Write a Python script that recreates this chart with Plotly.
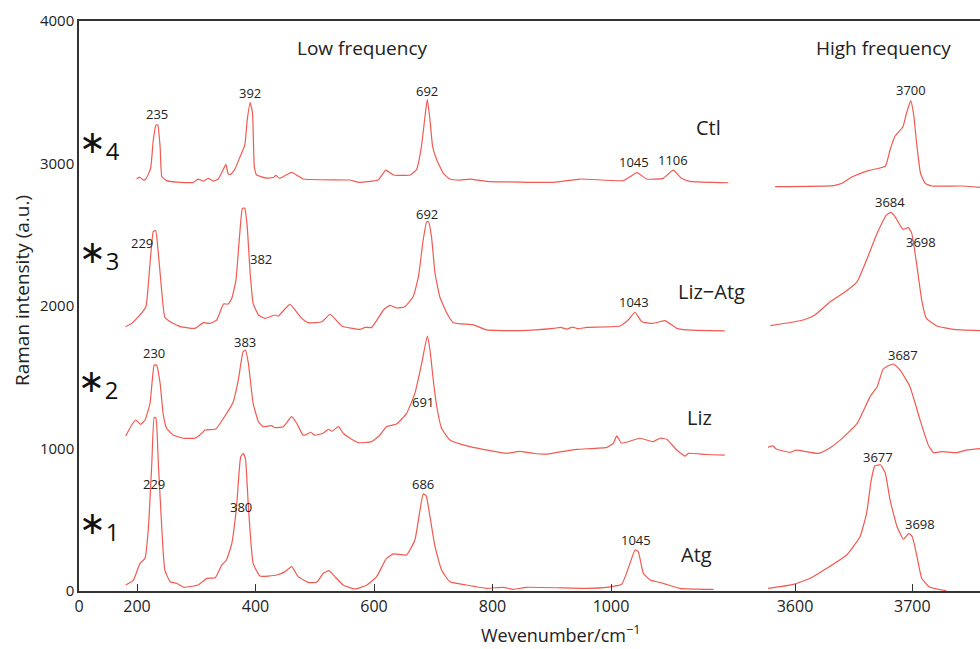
import plotly.graph_objects as go

# ---------------- data (wavenumber, intensity) ----------------
ctl_low = [(199.5, 2891), (204, 2905), (211, 2884), (215, 2891), (223, 2966), (227.5, 3165), (232, 3270),
           (235, 3270), (239, 3118), (242, 2907), (250, 2880), (267, 2870), (295, 2868), (303, 2891),
           (312, 2877), (320, 2896), (329, 2877), (337, 2891), (345, 2954), (350, 2994), (354, 2926),
           (358, 2924), (365, 2959), (374, 3048), (382, 3130), (386, 3305), (391, 3427), (395, 3352),
           (398, 2978), (402, 2919), (419, 2898), (431, 2903), (434, 2917), (441, 2896), (461, 2938),
           (481, 2891), (559, 2884), (574, 2868), (607, 2884), (620, 2954), (633, 2919), (661, 2919),
           (672, 2959), (680, 3118), (686, 3328), (690, 3450), (694.5, 3305), (699, 3118), (706, 3025),
           (717, 2931), (728, 2891), (745, 2884), (762, 2891), (790, 2875), (903, 2868), (948, 2891),
           (1021, 2880), (1032, 2907), (1044, 2936), (1060, 2891), (1088, 2896), (1105, 2954),
           (1119, 2896), (1133, 2875), (1198, 2865)]

lizatg_low = [(181, 1855), (191, 1878), (205, 1937), (215, 1995), (222, 2300), (227.5, 2522), (231.5, 2530),
              (236, 2370), (242, 2089), (247, 1921), (256, 1890), (273, 1855), (298, 1843), (312, 1883),
              (323, 1878), (334.5, 1902), (346, 2014), (354, 2014), (360, 2054), (367, 2182), (373, 2487),
              (378, 2686), (382, 2686), (386, 2557), (391, 2230), (396, 2019), (405, 1937), (416, 1913),
              (433, 1937), (438.5, 1930), (458, 2012), (478, 1913), (489, 1883), (512, 1890), (526, 1942),
              (545.5, 1860), (576, 1836), (585, 1850), (596, 1850), (616, 1972), (627, 2005), (638, 1986),
              (652, 1995), (666, 2065), (675, 2206), (683, 2463), (689, 2592), (692, 2592), (697, 2487),
              (703, 2230), (711, 2065), (723, 1949), (734, 1883), (768, 1867), (790, 1832), (846, 1827),
              (903, 1843), (915, 1850), (925, 1838), (935, 1852), (945, 1840), (959, 1850), (1015, 1860),
              (1029, 1902), (1040.5, 1956), (1052, 1890), (1071, 1878), (1091, 1897), (1111, 1843),
              (1128, 1832), (1192, 1825)]

liz_low = [(181, 1088), (191, 1165), (198, 1200), (206, 1170), (213.5, 1200), (222, 1317), (229, 1586),
           (233, 1586), (239, 1458), (244, 1247), (250, 1142), (261, 1095), (278, 1072), (298, 1072),
           (306, 1095), (315, 1130), (333, 1137), (346, 1212), (362.5, 1328), (371, 1481), (379, 1679),
           (383, 1691), (388, 1598), (396, 1317), (405, 1188), (413, 1153), (427, 1160), (433, 1146),
           (447, 1153), (461, 1223), (469.5, 1177), (480, 1095), (484, 1095), (493, 1114), (500, 1093),
           (514, 1107), (523, 1135), (529, 1121), (540, 1153), (548, 1107), (559.5, 1072), (573.5, 1041),
           (596, 1048), (610, 1095), (621, 1153), (638, 1172), (655, 1247), (669, 1387), (680.5, 1598),
           (690, 1789), (694.5, 1691), (700, 1481), (706, 1293), (714, 1142), (728, 1060), (762, 1013),
           (796, 985), (824, 966), (846, 980), (870, 965), (891.5, 961), (942, 994), (993, 1008),
           (1004, 1037), (1009.6, 1088), (1018, 1037), (1049, 1072), (1071, 1048), (1083, 1072),
           (1094, 1065), (1111, 989), (1125, 947), (1130.5, 966), (1160, 958), (1192, 954)]

atg_low = [(181, 42), (194, 77), (205, 194), (213.5, 229), (219, 428), (225, 896), (229, 1219), (232, 1212),
           (236, 896), (242, 428), (247, 147), (256, 65), (267, 54), (279, 26), (303, 42), (318, 89),
           (332, 93), (343, 182), (351, 218), (360, 335), (368, 592), (375, 942), (379.5, 966), (383, 930),
           (388, 592), (396, 194), (407.6, 105), (436, 112), (450, 136), (461, 171), (472, 101), (489, 61),
           (503, 61), (514.5, 124), (524, 143), (534, 101), (548, 42), (568, 14), (588, 42), (604.5, 101),
           (621, 229), (633, 260), (655, 253), (669, 358), (677.6, 568), (683, 681), (688, 670),
           (694.5, 521), (703, 311), (714, 147), (728, 65), (756, 42), (790, 19), (818, 26), (835, 12),
           (858, 26), (959, 19), (993, 26), (1018, 47), (1032, 194), (1040.5, 288), (1046, 276),
           (1054.5, 124), (1066, 77), (1088, 54), (1116, 19), (1173, 12)]

ctl_high = [(3583, 2838), (3633, 2845), (3640, 2861), (3648, 2903), (3662.5, 2950), (3677, 2982),
            (3681, 3095), (3685, 3188), (3692, 3258), (3695, 3352), (3698.6, 3441), (3701, 3352),
            (3704, 3118), (3707, 2931), (3711, 2861), (3716.5, 2842), (3741, 2842), (3758, 2833)]

lizatg_high = [(3579, 1862), (3607, 1902), (3617, 1937), (3630, 2030), (3644, 2107), (3653, 2171),
               (3661, 2323), (3670, 2510), (3678, 2639), (3681.6, 2657), (3685, 2630), (3692, 2538),
               (3696.6, 2550), (3699.5, 2510), (3704, 2276), (3708, 2042), (3712, 1913), (3721, 1860),
               (3735, 1836), (3758, 1827)]

liz_high = [(3577, 1008), (3581, 1018), (3584, 996), (3596, 973), (3601, 989), (3620, 966), (3630, 1006),
            (3638, 1055), (3653, 1177), (3664, 1364), (3670, 1434), (3675, 1556), (3678, 1574),
            (3684, 1593), (3689.5, 1551), (3698, 1434), (3706.6, 1200), (3713.6, 1025), (3718, 971),
            (3725, 978), (3738, 971), (3746, 989), (3758, 999)]

atg_high = [(3577, 19), (3598.6, 47), (3613, 89), (3627, 159), (3644, 253), (3655.4, 381), (3661, 545),
            (3665, 779), (3668, 877), (3673, 884), (3677, 826), (3681, 639), (3687, 451), (3692.5, 363),
            (3697, 405), (3700, 381), (3704, 241), (3708, 89), (3715, 26), (3729, 2)]

# peak labels: (text, wavenumber, intensity, axis)
peak_labels = [
    ("235", 234, 3347, "x"), ("392", 391, 3495, "x"), ("692", 690, 3509, "x"),
    ("1045", 1039, 3011, "x"), ("1106", 1104, 3025, "x"),
    ("229", 209, 2442, "x"), ("382", 409, 2330, "x"), ("692", 690, 2646, "x"), ("1043", 1039, 2028, "x"),
    ("230", 229, 1670, "x"), ("383", 382, 1747, "x"), ("691", 683, 1326, "x"),
    ("229", 229, 751, "x"), ("380", 375.5, 589, "x"), ("686", 683, 751, "x"), ("1045", 1042, 358, "x"),
    ("3700", 3698.6, 3516, "x2"), ("3684", 3681, 2730, "x2"), ("3698", 3707, 2449, "x2"),
    ("3687", 3692, 1656, "x2"), ("3677", 3671, 940, "x2"), ("3698", 3706.6, 470, "x2"),
]
sample_names = [("Ctl", 1165, 3256), ("Liz\u2212Atg", 1170, 2105), ("Liz", 1150, 1221), ("Atg", 1145, 253)]
# star markers: (subscript digit, group centre px x, group centre px y)
star_labels = [("4", 99.5, 145), ("3", 98.5, 254.5), ("2", 98, 383.5), ("1", 98.5, 525.5)]
region_titles = [("Low frequency", 580, "x"), ("High frequency", 3675, "x2")]

x1_ticks = [102.1, 200, 400, 600, 800, 1000]
x1_text = ["0", "200", "400", "600", "800", "1000"]
x2_ticks = [3600, 3700]
y_ticks = [0, 1000, 2000, 3000, 4000]

RED = "#f05a52"
AX = "#333333"
FONT = "Open Sans, Noto Sans, sans-serif"

# plot-area geometry (px) used to place paper-referenced labels
L, R, T, B = 79, 980, 21, 591


def px_to_paper(px, py):
    return (px - L) / (R - L), (B - py) / (B - T)


fig = go.Figure()
for pts, ax in [(ctl_low, "x"), (lizatg_low, "x"), (liz_low, "x"), (atg_low, "x"),
                (ctl_high, "x2"), (lizatg_high, "x2"), (liz_high, "x2"), (atg_high, "x2")]:
    fig.add_trace(go.Scatter(
        x=[p[0] for p in pts], y=[p[1] for p in pts], mode="lines",
        line=dict(color=RED, width=1.2, shape="spline", smoothing=0.4),
        xaxis=ax, yaxis="y", showlegend=False, hoverinfo="skip"))

ann = []
for t, xv, yv, ax in peak_labels:
    ann.append(dict(text=t, x=xv, y=yv, xref=ax, yref="y", showarrow=False,
                    xanchor="center", yanchor="middle", font=dict(size=13, color="#222")))
for t, xv, yv in sample_names:
    ann.append(dict(text=t, x=xv, y=yv, xref="x", yref="y", showarrow=False,
                    xanchor="center", yanchor="middle", font=dict(size=20, color="#222")))
for t, xv, ax in region_titles:
    ann.append(dict(text=t, x=xv, y=3811, xref=ax, yref="y", showarrow=False,
                    xanchor="center", yanchor="middle", font=dict(size=19, color="#222")))
for d, sx, sy in star_labels:
    px_, py_ = px_to_paper(sx, sy)
    ann.append(dict(text='<span style="font-family:DejaVu Sans;font-size:32px">\u2217</span><sub>' + d + "</sub>",
                    x=px_, y=py_, xref="paper", yref="paper", showarrow=False,
                    xanchor="center", yanchor="middle", font=dict(size=34, color="#111")))

tx, ty = px_to_paper(560, 634)
ann.append(dict(text="Wevenumber/cm<sup>\u22121</sup>", x=tx, y=ty, xref="paper", yref="paper",
                xanchor="center", yanchor="middle", showarrow=False, font=dict(size=18, color="#222")))
tx, ty = px_to_paper(22, 291)
ann.append(dict(text="Raman intensity (a.u.)", x=tx, y=ty, xref="paper", yref="paper",
                xanchor="center", yanchor="middle",
                textangle=-90, showarrow=False, font=dict(size=19, color="#222")))

axis_common = dict(showline=True, linecolor=AX, linewidth=1.5, mirror=True, showgrid=False,
                   zeroline=False, ticks="inside", ticklen=7, tickwidth=1.2, tickcolor=AX,
                   tickfont=dict(size=16, color="#222"))

fig.update_layout(
    width=980, height=649,
    margin=dict(l=L, r=0, t=T, b=649 - B),
    paper_bgcolor="white", plot_bgcolor="white",
    font=dict(family=FONT),
    xaxis=dict(domain=[0, 0.7425], range=[102.1, 1231.2], tickvals=x1_ticks, ticktext=x1_text,
               anchor="y", **axis_common),
    xaxis2=dict(domain=[0.7425, 1], range=[3559.9, 3757.7], tickvals=x2_ticks, anchor="y",
                **axis_common),
    yaxis=dict(range=[0, 4000], tickvals=y_ticks, showline=True, linecolor=AX, linewidth=1.5,
               showgrid=False, zeroline=False, ticks="", tickfont=dict(size=15, color="#222"),
               anchor="x"),
    annotations=ann,
)

fig.write_html("out.html")
